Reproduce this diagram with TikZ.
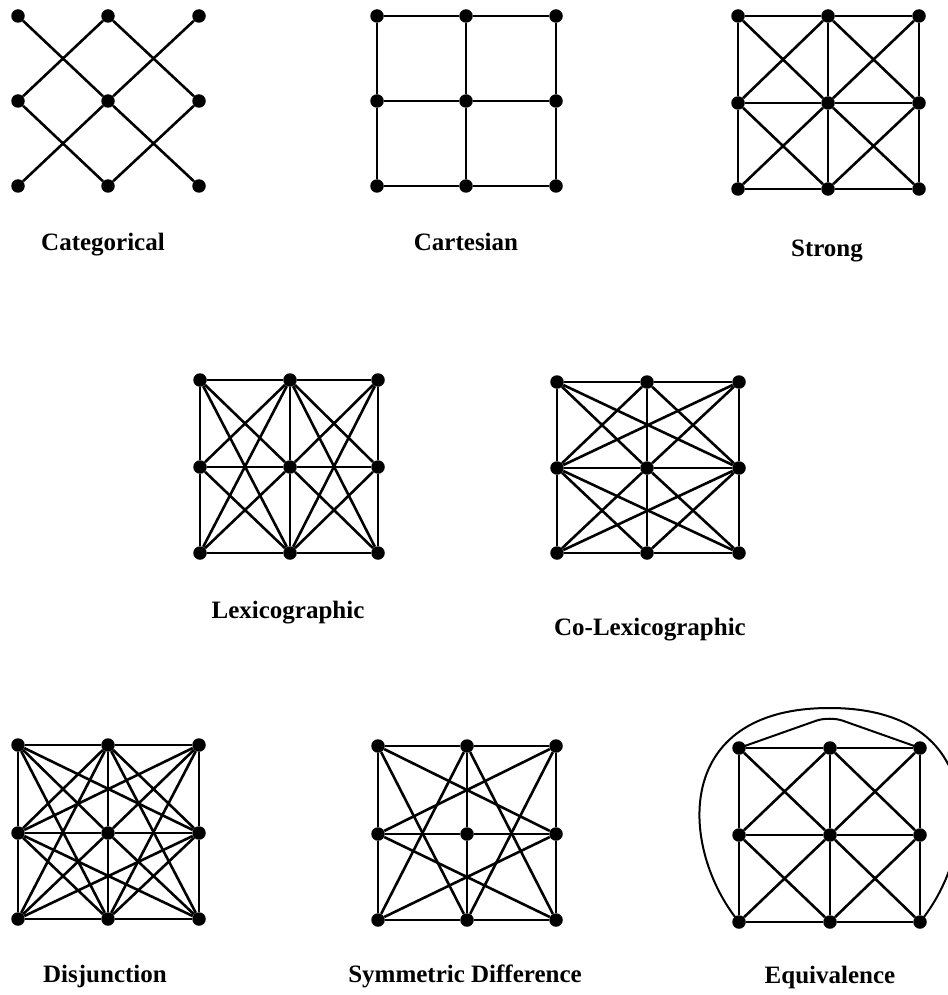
\documentclass[tikz,border=0pt]{standalone}
\usepackage{fontspec}
\setmainfont{Liberation Serif}
\begin{document}
\begin{tikzpicture}[x=1pt,y=-1pt,
  vtx/.style={circle,fill=black,draw=none,inner sep=0pt,minimum size=13.5pt},
  edge/.style={line width=2.6pt,black},
  curve/.style={line width=2pt,black},
  lbl/.style={anchor=base,inner sep=0pt,font=\fontsize{25}{30}\selectfont\bfseries}]
\useasboundingbox (0,0) rectangle (947,995);
\newcommand\mkgrid[7]{%
  \foreach \r/\yy in {0/#5,1/#6,2/#7}{%
    \foreach \c/\xx in {0/#2,1/#3,2/#4}{%
      \node[vtx] (#1\r\c) at (\xx,\yy) {};
    }}}
\newcommand\HH{00/01,01/02,10/11,11/12,20/21,21/22}
\newcommand\VV{00/10,10/20,01/11,11/21,02/12,12/22}
\newcommand\XX{00/11,01/10,01/12,02/11,10/21,11/20,11/22,12/21}
\newcommand\LEXC{00/01,00/11,00/21,10/01,10/11,10/21,20/01,20/11,20/21,01/02,01/12,01/22,11/02,11/12,11/22,21/02,21/12,21/22}
\newcommand\COLR{00/10,00/11,00/12,01/10,01/11,01/12,02/10,02/11,02/12,10/20,10/21,10/22,11/20,11/21,11/22,12/20,12/21,12/22}
\newcommand\FAR{00/12,02/10,10/22,12/20}
\newcommand\KN{00/21,20/01,01/22,21/02}
\newcommand\edges[2]{\foreach \a/\b in #2 {\draw[edge] (#1\a) -- (#1\b);}}
% Categorical
\mkgrid{A}{18}{108}{199}{16}{101}{186}
\edges{A}{\XX}
% Cartesian
\mkgrid{B}{377}{466}{556}{16}{101}{186}
\edges{B}{\HH}\edges{B}{\VV}
% Strong
\mkgrid{C}{738}{828}{919}{16}{103}{189}
\edges{C}{\HH}\edges{C}{\VV}\edges{C}{\XX}
% Lexicographic
\mkgrid{D}{200}{290}{378}{380}{467}{553}
\edges{D}{\VV}\edges{D}{\LEXC}
% Co-Lexicographic
\mkgrid{E}{557}{647}{739}{382}{468}{553}
\edges{E}{\HH}\edges{E}{\COLR}
% Disjunction
\mkgrid{F}{18}{108}{199}{745}{833}{919}
\edges{F}{\LEXC}\edges{F}{\VV}\edges{F}{\FAR}
% Symmetric Difference
\mkgrid{G}{378}{467}{556}{746}{834}{920}
\edges{G}{\HH}\edges{G}{\VV}\edges{G}{\KN}\edges{G}{\FAR}
% Equivalence
\mkgrid{H}{739}{830}{920}{748}{835}{922}
\edges{H}{\HH}\edges{H}{\VV}\edges{H}{\XX}
\coordinate (Htop) at (829.5,716);
\draw[curve,rounded corners=14pt] (H00.center) -- (Htop) -- (H02.center);
\draw[curve] (H20.center) .. controls (680,850) and (670,708) .. (829.5,708)
  .. controls (989,708) and (979,850) .. (H22.center);
% labels
\node[lbl] (lA) at (103,250) {Categorical};
\node[lbl] (lB) at (466,250) {Cartesian};
\node[lbl] (lC) at (827,256) {Strong};
\node[lbl] (lD) at (288,618) {Lexicographic};
\node[lbl] (lE) at (650,635) {Co-Lexicographic};
\node[lbl] (lF) at (105,982) {Disjunction};
\node[lbl] (lG) at (465,982) {Symmetric Difference};
\node[lbl] (lH) at (830,983) {Equivalence};
\end{tikzpicture}
\end{document}
